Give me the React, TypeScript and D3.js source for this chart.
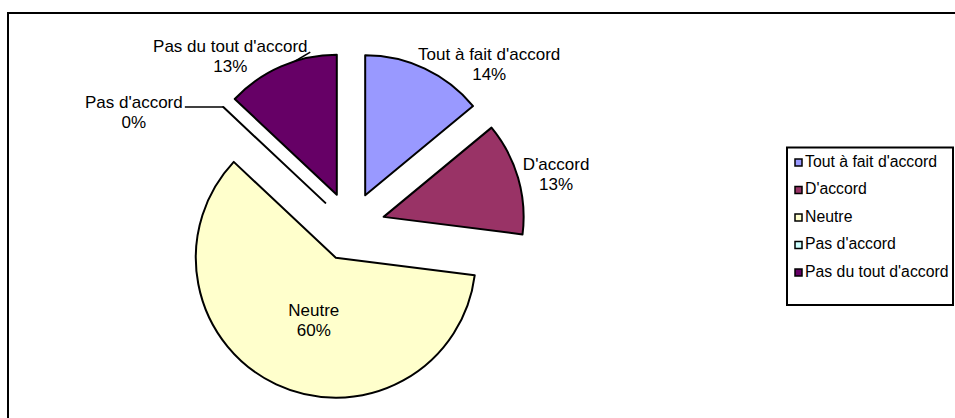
import React, { useEffect, useRef } from 'react';
import * as d3 from 'd3';

// Répartition des réponses (en %)
const categories = ["Tout à fait d'accord", "D'accord", 'Neutre', "Pas d'accord", "Pas du tout d'accord"];
const values = [14, 13, 60, 0, 13];
const colors = ['#9999FF', '#993366', '#FFFFCC', '#CCFFFF', '#660066'];

// label placement, relative to each exploded slice's apex (first baseline)
const labelOffsets: Record<string, [number, number]> = {
  "Tout à fait d'accord": [124, -135],
  "D'accord": [172.5, -46.5],
  'Neutre': [-22, 58],
  "Pas d'accord": [-191.5, -94.5],
  "Pas du tout d'accord": [-106.5, -142.8],
};

const W = 955;
const H = 418;

const App: React.FC = () => {
  const svgRef = useRef<SVGSVGElement>(null);

  useEffect(() => {
    if (!svgRef.current) return;
    const svg = d3.select(svgRef.current);
    svg.selectAll('*').remove();

    const font = "'Liberation Sans', Arial, sans-serif";

    // chart area frame (runs off the page on the right and bottom)
    svg.append('rect')
      .attr('x', 8).attr('y', 13)
      .attr('width', W + 20).attr('height', H + 20)
      .attr('fill', 'white')
      .attr('stroke', '#000')
      .attr('stroke-width', 2);

    const cx = 350.5;
    const cy = 226.5;
    const r = 140;
    const explode = 34.5;

    const pie = d3.pie<number>().sort(null).value(d => d);
    const arcs = pie(values);
    const arc = d3.arc<d3.PieArcDatum<number>>().innerRadius(0).outerRadius(r);

    const total = d3.sum(values);
    const fmt = (v: number) => `${Math.round((v / total) * 100)}%`;

    const g = svg.append('g').attr('transform', `translate(${cx},${cy})`);

    const slices = arcs.map((a, i) => {
      const mid = (a.startAngle + a.endAngle) / 2;
      const ox = Math.sin(mid) * explode;
      const oy = -Math.cos(mid) * explode;
      return { a, i, mid, ox, oy };
    });

    g.selectAll('path.slice')
      .data(slices)
      .join('path')
      .attr('class', 'slice')
      .attr('transform', d => `translate(${d.ox},${d.oy})`)
      .attr('d', d => arc(d.a) as string)
      .attr('fill', d => colors[d.i])
      .attr('stroke', '#000')
      .attr('stroke-width', 2)
      .attr('stroke-linejoin', 'round');

    // data labels
    const labels = g.selectAll('g.lbl')
      .data(slices)
      .join('g')
      .attr('class', 'lbl')
      .attr('transform', d => {
        const [dx, dy] = labelOffsets[categories[d.i]];
        return `translate(${d.ox + dx},${d.oy + dy})`;
      });

    labels.append('text')
      .attr('text-anchor', 'middle')
      .attr('font-family', font)
      .attr('font-size', 17)
      .attr('fill', '#000')
      .text(d => categories[d.i]);

    labels.append('text')
      .attr('y', 20)
      .attr('text-anchor', 'middle')
      .attr('font-family', font)
      .attr('font-size', 17)
      .attr('fill', '#000')
      .text(d => fmt(values[d.i]));

    // leader lines for the two labels pulled away from their slices
    const leader = (idx: number, angleShift: number, endDx: number, endDy: number | null) => {
      const s = slices[idx];
      const ang = s.mid + angleShift;
      const px = s.ox + Math.sin(ang) * r;
      const py = s.oy - Math.cos(ang) * r;
      const [ldx, ldy] = labelOffsets[categories[idx]];
      const lx = s.ox + ldx + endDx;
      const ly = endDy === null ? py : s.oy + ldy + endDy;
      g.append('polyline')
        .attr('points', `${px},${py} ${lx},${ly}`)
        .attr('fill', 'none')
        .attr('stroke', '#000')
        .attr('stroke-width', 1.5);
    };
    leader(3, 0, 51, null);
    leader(4, (6 * Math.PI) / 180, 80, 0);

    // legend
    const lx = 787;
    const ly = 147.5;
    const legend = svg.append('g');
    legend.append('rect')
      .attr('x', lx).attr('y', ly)
      .attr('width', 166).attr('height', 157.5)
      .attr('fill', 'white')
      .attr('stroke', '#000')
      .attr('stroke-width', 2);

    const items = legend.selectAll('g.item')
      .data(categories)
      .join('g')
      .attr('class', 'item')
      .attr('transform', (_, i) => `translate(${lx + 8},${ly + 19 + i * 27.5})`);

    items.append('rect')
      .attr('x', 0).attr('y', -7.5)
      .attr('width', 7).attr('height', 7)
      .attr('fill', (_, i) => colors[i])
      .attr('stroke', '#000')
      .attr('stroke-width', 1.5);

    items.append('text')
      .attr('x', 10)
      .attr('font-family', font)
      .attr('font-size', 15.8)
      .attr('fill', '#000')
      .text(d => d);
  }, []);

  return (
    <svg
      ref={svgRef}
      width={W}
      height={H}
      style={{ position: 'absolute', left: 0, top: 0, display: 'block', background: 'white' }}
    />
  );
};

export default App;
